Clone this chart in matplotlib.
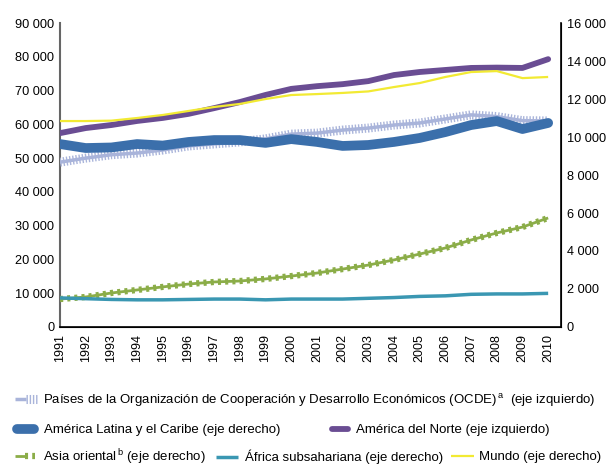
import matplotlib
matplotlib.use("Agg")
import matplotlib.pyplot as plt
import matplotlib.ticker as mticker
import matplotlib.transforms as mtransforms
from matplotlib.legend_handler import HandlerTuple
import numpy as np

plt.rcParams['font.family'] = ['Liberation Sans', 'DejaVu Sans']
plt.rcParams['mathtext.fontset'] = 'custom'
plt.rcParams['mathtext.rm'] = 'Liberation Sans'
plt.rcParams['mathtext.it'] = 'Liberation Sans'
plt.rcParams['lines.scale_dashes'] = False

# datos
years = list(range(1991, 2011))
ocde = [48800, 50000, 51000, 51500, 52400, 53600, 54200, 54800, 55700, 57100,
        57400, 58300, 58900, 59800, 60400, 61600, 62800, 62300, 61100, 61000]
america_norte = [57400, 58900, 59800, 61000, 61900, 63100, 64800, 66600, 68700, 70500,
                 71300, 71900, 72800, 74600, 75500, 76100, 76700, 76800, 76700, 79300]
america_latina = [9630, 9420, 9450, 9630, 9550, 9740, 9840, 9840, 9690, 9890,
                  9740, 9530, 9580, 9740, 9950, 10260, 10630, 10840, 10420, 10740]
asia_oriental = [1470, 1580, 1790, 1950, 2110, 2260, 2370, 2420, 2530, 2680,
                 2840, 3050, 3260, 3530, 3840, 4160, 4580, 4950, 5260, 5740]
africa = [1530, 1490, 1450, 1430, 1430, 1450, 1470, 1470, 1430, 1470,
          1470, 1470, 1510, 1550, 1610, 1640, 1720, 1740, 1740, 1770]
mundo = [10840, 10840, 10860, 11000, 11160, 11370, 11580, 11740, 12000, 12210,
         12260, 12320, 12400, 12630, 12840, 13160, 13420, 13470, 13100, 13160]

fig = plt.figure(figsize=(6.08, 4.66), dpi=100)
ax = fig.add_axes([0.0987, 0.2983, 0.8240, 0.6523])
ax2 = ax.twinx()

# eje izquierdo
l_ocde_base, = ax.plot(years, ocde, color='#a9b4da', lw=2.5, solid_capstyle='butt', zorder=3)
l_ocde_tick, = ax.plot(years, ocde, color='#a9b4da', lw=6.5, dashes=(1.0, 1.3), zorder=3)
l_norte, = ax.plot(years, america_norte, color='#6a4d93', lw=4.2, solid_capstyle='round', zorder=3)

# eje derecho
l_latina, = ax2.plot(years, america_latina, color='#3b6fab', lw=7, solid_capstyle='round', zorder=3)
l_asia_base, = ax2.plot(years, asia_oriental, color='#8bad48', lw=2, solid_capstyle='butt', zorder=3)
l_asia_tick, = ax2.plot(years, asia_oriental, color='#8bad48', lw=4.5, dashes=(2.2, 3.0), zorder=3)
l_africa, = ax2.plot(years, africa, color='#3a97b2', lw=2.5, solid_capstyle='butt', zorder=3)
l_mundo, = ax2.plot(years, mundo, color='#f2ea33', lw=1.6, solid_capstyle='butt', zorder=3)

fmt = mticker.FuncFormatter(lambda v, p: f'{int(v):,}'.replace(',', ' '))
ax.set_ylim(0, 90000)
ax.set_yticks(np.arange(0, 90001, 10000))
ax.yaxis.set_major_formatter(fmt)
ax2.set_ylim(0, 16000)
ax2.set_yticks(np.arange(0, 16001, 2000))
ax2.yaxis.set_major_formatter(fmt)
ax.set_xlim(1991, 2010.5)
ax.set_xticks(years)
ax.set_xticklabels([str(y) for y in years], rotation=90, fontsize=9)
shift = mtransforms.ScaledTranslation(4 / 100, 0, fig.dpi_scale_trans)
for lbl in ax.get_xticklabels():
    lbl.set_transform(lbl.get_transform() + shift)

for a in (ax, ax2):
    a.spines['top'].set_visible(False)
    a.tick_params(axis='y', labelsize=9.2, length=0, pad=4)
ax.tick_params(axis='x', length=0, pad=5)
ax.spines['left'].set_color('#666666')
ax.spines['left'].set_linewidth(1.5)
ax2.spines['left'].set_visible(False)
ax2.spines['right'].set_linewidth(1.2)
ax.spines['bottom'].set_linewidth(1.2)

# leyenda manual en tres filas: (handle, texto, x, y, largo, separación)
fs = 9.55
entries = [
    ((l_ocde_base, l_ocde_tick),
     r'Países de la Organización de Cooperación y Desarrollo Económicos (OCDE)$^{\,\rm a}$  (eje izquierdo)',
     15, 400, 1.66, 0.45),
    (l_latina, 'América Latina y el Caribe (eje derecho)', 17, 430, 1.29, 0.75),
    (l_norte, 'América del Norte (eje izquierdo)', 332, 430, 1.22, 0.6),
    ((l_asia_base, l_asia_tick), r'Asia oriental$^{\,\rm b}$ (eje derecho)', 15, 457, 1.5, 0.6),
    (l_africa, 'África subsahariana (eje derecho)', 216, 457, 1.66, 0.52),
    (l_mundo, 'Mundo (eje derecho)', 451, 457, 1.73, 0.38),
]
for h, lab, px, py, hl, tp in entries:
    fig.legend([h], [lab], loc='center left', bbox_to_anchor=(px / 608, 1 - py / 466),
               frameon=False, fontsize=fs, handlelength=hl, handletextpad=tp,
               borderpad=0, borderaxespad=0,
               handler_map={tuple: HandlerTuple(ndivide=None, pad=0)})

fig.savefig('out.png', dpi=100)
